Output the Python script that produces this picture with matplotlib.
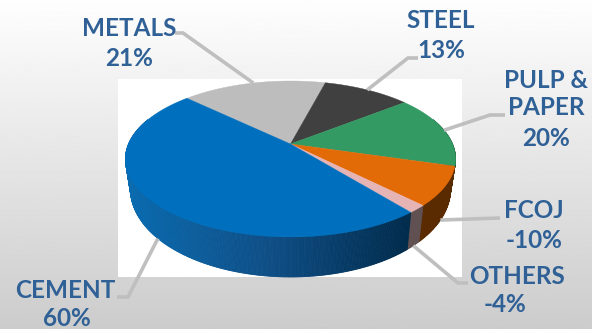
import numpy as np
import matplotlib
matplotlib.use("Agg")
import matplotlib.pyplot as plt
from matplotlib.collections import PolyCollection
from matplotlib.colors import to_rgb
from matplotlib.patches import Polygon, Rectangle

# Sector data, clockwise from the Metals/Cement boundary
categories = ["METALS", "STEEL", "PULP &\nPAPER", "FCOJ", "OTHERS", "CEMENT"]
shares = [17.0, 10.3, 15.1, 8.0, 1.6, 48.0]
growth_labels = ["21%", "13%", "20%", "-10%", "-4%", "60%"]
top_colors = ["#bdbdbd", "#404040", "#349a63", "#e26b08", "#e6b4b4", "#006fbe"]
side_colors = ["#7a7a7a", "#262626", "#1e5c3b", "#5a2a00", "#5f4f50", None]

W, H = 592, 329
START_ANGLE = 136.4
CX, CY, A, B, K = 290.5, 144.0, 162.0, 75.1, 0.192
TEXT_COLOR = "#2f6096"
LEADER_COLOR = "#bfbfbf"


def top_rim(t):
    """Project a disc angle (degrees) on to the tilted top surface."""
    r = np.radians(t)
    w = 1 + K * np.sin(r)
    return CX + A * np.cos(r) / w, CY - B * np.sin(r) / w


def bottom_rim(t):
    """Matching point on the lower edge of the disc."""
    x, y = top_rim(t)
    return CX + (x - CX) * 0.97, y + 27 - 13 * np.sin(np.radians(t))


def cement_shade(frac):
    left, mid, right = np.array(to_rgb("#0a6cb0")), np.array(to_rgb("#0e4e86")), np.array(to_rgb("#002a4a"))
    if frac < 0.5:
        return left + (mid - left) * frac * 2
    return mid + (right - mid) * (frac - 0.5) * 2


fig = plt.figure(figsize=(W / 100, H / 100), dpi=100)
ax = fig.add_axes([0, 0, 1, 1])
ax.set_xlim(0, W)
ax.set_ylim(H, 0)
ax.axis("off")

# Backdrop: vertical grey ramp with a white plot panel
ramp = np.linspace(0.995, 0.80, 256).reshape(-1, 1)
ax.imshow(ramp, cmap="gray", vmin=0, vmax=1, extent=(0, W, H, 0), aspect="auto", zorder=0)
ax.add_patch(Rectangle((118, 79), 344, 198, fc="white", ec="none", zorder=1))

# Sector boundaries in disc angles
edges = START_ANGLE - np.cumsum([0] + shares) * 3.6
mids = (edges[:-1] + edges[1:]) / 2

# Side wall, drawn as thin shaded strips
polys, face = [], []
for i in range(len(shares)):
    ts = np.linspace(edges[i], edges[i + 1], max(2, int(abs(edges[i + 1] - edges[i])) * 2))
    for t0, t1 in zip(ts[:-1], ts[1:]):
        if np.sin(np.radians((t0 + t1) / 2)) > 0.35:
            continue
        polys.append([top_rim(t0), top_rim(t1), bottom_rim(t1), bottom_rim(t0)])
        if side_colors[i] is None:
            x = top_rim((t0 + t1) / 2)[0]
            face.append(cement_shade(np.clip((x - 124) / (413 - 124), 0, 1)))
        else:
            face.append(to_rgb(side_colors[i]))
ax.add_collection(PolyCollection(polys, facecolors=face, edgecolors=face, linewidths=0.6, zorder=2))

# Top surface
for i, color in enumerate(top_colors):
    ts = np.linspace(edges[i], edges[i + 1], 200)
    rim = np.column_stack(top_rim(ts))
    ax.add_patch(Polygon(np.vstack([[CX, CY], rim]), closed=True, fc=color, ec=color, lw=0.3, zorder=3))

# Leader lines run from each sector's rim to its label
side_anchor = [False, False, False, True, True, True]
elbows = [
    [(183, 33), (175, 33)],
    [(408, 58), (418, 58)],
    [(490, 115), (505, 115)],
    [(500, 218)],
    [(458, 283), (468, 283)],
    [(128, 297), (117, 297)],
]
for mid, bent, lower in zip(mids, elbows, side_anchor):
    start = bottom_rim(mid) if lower else top_rim(mid)
    xs, ys = zip(*([start] + bent))
    ax.plot(xs, ys, color=LEADER_COLOR, lw=2.6, solid_capstyle="butt", solid_joinstyle="miter", zorder=4)

# Category and percentage labels
label_pos = [(129, 29, 129, 58), (441, 21, 441, 50), (546, 94, 546, 138),
             (534, 211, 534, 241), (517, 276, 505, 305), (65, 290, 67, 318)]
for name, value, (x0, y0, x1, y1) in zip(categories, growth_labels, label_pos):
    style = dict(color=TEXT_COLOR, fontsize=17.5, family="Lato", fontweight="bold",
                 ha="center", va="center", zorder=5, linespacing=1.18)
    ax.text(x0, y0, name, **style)
    ax.text(x1, y1, value, **style)

fig.savefig("out.png", dpi=100)
